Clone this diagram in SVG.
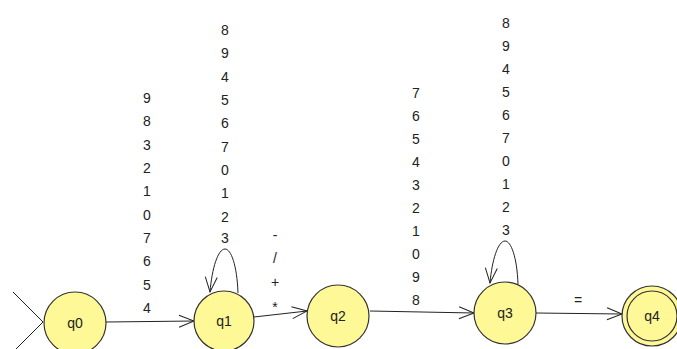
<svg xmlns="http://www.w3.org/2000/svg" width="677" height="349" viewBox="0 0 677 349">
<style>
.node{fill:#FFF896;stroke:#333;stroke-width:1.2}
.lbl{font-family:"Liberation Sans",Arial,sans-serif;font-size:14px;fill:#222;text-anchor:middle}
.edge{fill:none;stroke:#222;stroke-width:1}
</style>
<defs>
<marker id="arr" markerUnits="userSpaceOnUse" markerWidth="18" markerHeight="14" refX="15" refY="6" orient="auto" overflow="visible">
<path d="M0,0 L15,6 L0,12" fill="none" stroke="#222" stroke-width="1"/>
</marker>
</defs>
<rect width="677" height="349" fill="#fff"/>
<g id="connectors">
<polyline class="edge" points="13,292 43,322 13,352"/>
<line class="edge" x1="106" y1="322" x2="194" y2="321" marker-end="url(#arr)"/>
<line class="edge" x1="254" y1="317" x2="307" y2="311" marker-end="url(#arr)"/>
<line class="edge" x1="370" y1="311" x2="474" y2="313" marker-end="url(#arr)"/>
<line class="edge" x1="536" y1="313" x2="622" y2="314" marker-end="url(#arr)"/>
<path class="edge" d="M238,293 C237,265 231,249 225,249 C218,249 212,268 210,292" marker-end="url(#arr)"/>
<path class="edge" d="M518,284 C517,257 511,241 505,241 C498,241 492,260 490,283" marker-end="url(#arr)"/>
<g class="lbl">
<text x="147" y="103">9</text><text x="147" y="126">8</text><text x="147" y="150">3</text><text x="147" y="173">2</text><text x="147" y="196">1</text><text x="147" y="220">0</text><text x="147" y="243">7</text><text x="147" y="266">6</text><text x="147" y="290">5</text><text x="147" y="313">4</text>
<text x="225" y="35">8</text><text x="225" y="58">9</text><text x="225" y="82">4</text><text x="225" y="105">5</text><text x="225" y="128">6</text><text x="225" y="152">7</text><text x="225" y="175">0</text><text x="225" y="198">1</text><text x="225" y="222">2</text><text x="225" y="243">3</text>
<text x="275" y="240">-</text><text x="275" y="263">/</text><text x="275" y="287">+</text><text x="275" y="312">*</text>
<text x="416" y="98">7</text><text x="416" y="121">6</text><text x="416" y="144">5</text><text x="416" y="167">4</text><text x="416" y="190">3</text><text x="416" y="213">2</text><text x="416" y="236">1</text><text x="416" y="259">0</text><text x="416" y="282">9</text><text x="416" y="305">8</text>
<text x="506" y="28">8</text><text x="506" y="51">9</text><text x="506" y="74">4</text><text x="506" y="97">5</text><text x="506" y="120">6</text><text x="506" y="143">7</text><text x="506" y="166">0</text><text x="506" y="189">1</text><text x="506" y="212">2</text><text x="506" y="235">3</text>
<text x="578" y="305">=</text>
</g>
</g>
<g id="q0"><circle class="node" cx="75" cy="323" r="31"/><text class="lbl" x="75" y="328">q0</text></g>
<g id="q1"><circle class="node" cx="224" cy="321" r="30"/><text class="lbl" x="224" y="326">q1</text></g>
<g id="q2"><circle class="node" cx="338" cy="316" r="31"/><text class="lbl" x="338" y="321">q2</text></g>
<g id="q3"><circle class="node" cx="505" cy="313" r="31"/><text class="lbl" x="505" y="318">q3</text></g>
<g id="q4"><circle class="node" cx="652" cy="316" r="30"/><circle class="node" cx="652" cy="316" r="25"/><text class="lbl" x="652" y="321">q4</text></g>
</svg>
